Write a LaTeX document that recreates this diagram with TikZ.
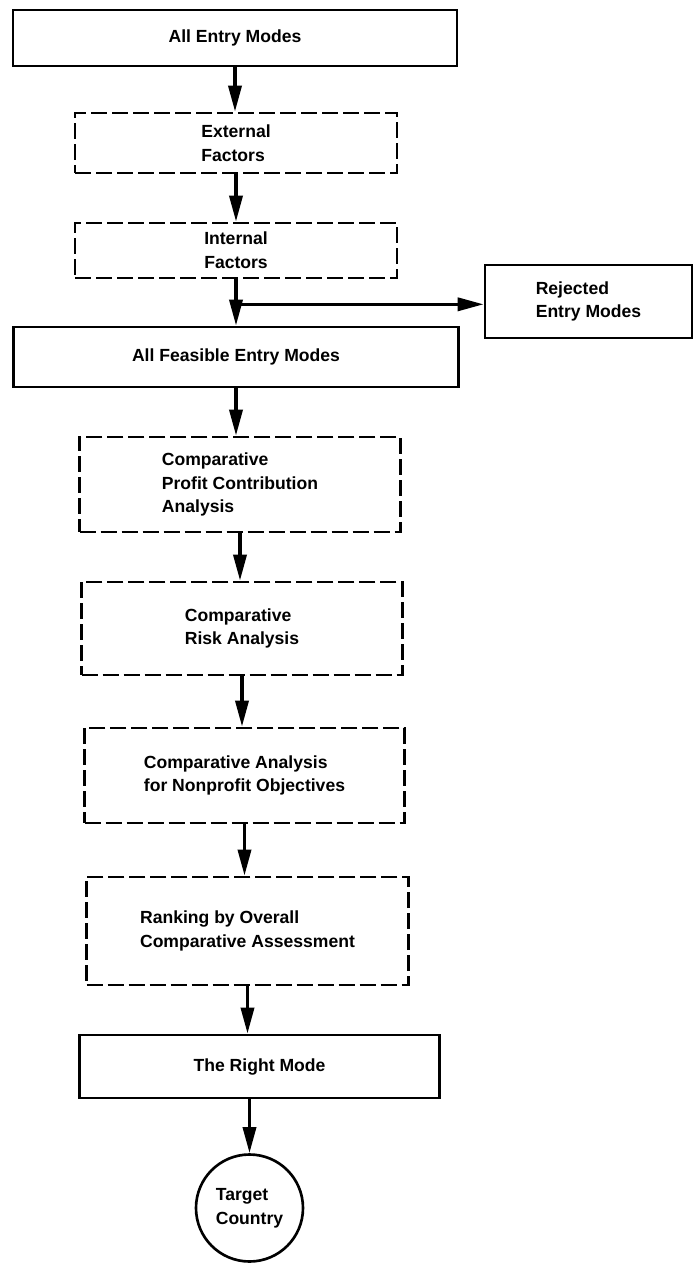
\documentclass[tikz,border=0pt]{standalone}
\usepackage{fontspec}
\setmainfont{Liberation Sans}
\usetikzlibrary{calc,arrows.meta}

\begin{document}
\begin{tikzpicture}[font=\bfseries\fontsize{10}{13.5}\selectfont,mode/.style={draw,line width=1.5pt,align=left},stage/.style={draw,line width=1.5pt,dash pattern=on 0.32cm off 0.1cm,align=left},target/.style={draw,circle,line width=1.5pt,minimum size=2.14cm,inner sep=0pt,align=left},arrow/.style={-{Triangle[length=0.52cm,width=0.26cm]},line width=2pt}]
  \useasboundingbox (0,0) rectangle (13.86,-25.26);
  \node[mode,minimum width=8.88cm,minimum height=1.12cm] (all) at (4.70,-0.76) {All Entry Modes};
  \node[stage,minimum width=6.44cm,minimum height=1.2cm] (external) at ($ (all) + (0.02,-2.1) $) {External\\Factors};
  \node[stage,minimum width=6.44cm,minimum height=1.1cm] (internal) at ($ (external) + (0,-2.15) $) {Internal\\Factors};
  \node[mode,minimum width=8.9cm,minimum height=1.2cm] (feasible) at ($ (internal) + (0,-2.13) $) {All Feasible Entry Modes};
  \node[mode,minimum width=4.14cm,minimum height=1.46cm] (rejected) at ($ (internal) + (7.05,-1.02) $) {Rejected\\Entry Modes};
  \node[stage,minimum width=6.42cm,minimum height=1.9cm] (profit) at ($ (feasible) + (0.08,-2.55) $) {Comparative\\Profit Contribution\\Analysis};
  \node[stage,minimum width=6.42cm,minimum height=1.86cm] (risk) at ($ (profit) + (0.04,-2.88) $) {Comparative\\Risk Analysis};
  \node[stage,minimum width=6.4cm,minimum height=1.9cm] (nonprofit) at ($ (risk) + (0.05,-2.94) $) {Comparative Analysis\\for Nonprofit Objectives};
  \node[stage,minimum width=6.44cm,minimum height=2.16cm] (ranking) at ($ (nonprofit) + (0.06,-3.11) $) {Ranking by Overall\\Comparative Assessment};
  \node[mode,minimum width=7.2cm,minimum height=1.26cm] (right) at ($ (ranking) + (0.24,-2.71) $) {The Right Mode};
  \node[target] (country) at ($ (ranking) + (0.04,-5.54) $) {Target\\Country};
  \coordinate (split) at ($ (internal.south) + (0,-0.5) $);
  \draw[arrow] (all) -- (all |- external.north);
  \draw[arrow] (external) -- (external |- internal.north);
  \draw[arrow] (internal) -- (internal |- feasible.north);
  \draw[arrow] (split) -- (split -| rejected.west);
  \draw[arrow] (feasible) -- (feasible |- profit.north);
  \draw[arrow] (profit) -- (profit |- risk.north);
  \draw[arrow] (risk) -- (risk |- nonprofit.north);
  \draw[arrow] (nonprofit) -- (nonprofit |- ranking.north);
  \draw[arrow] (ranking) -- (ranking |- right.north);
  \draw[arrow] (right.south -| country) -- (country);
\end{tikzpicture}
\end{document}
